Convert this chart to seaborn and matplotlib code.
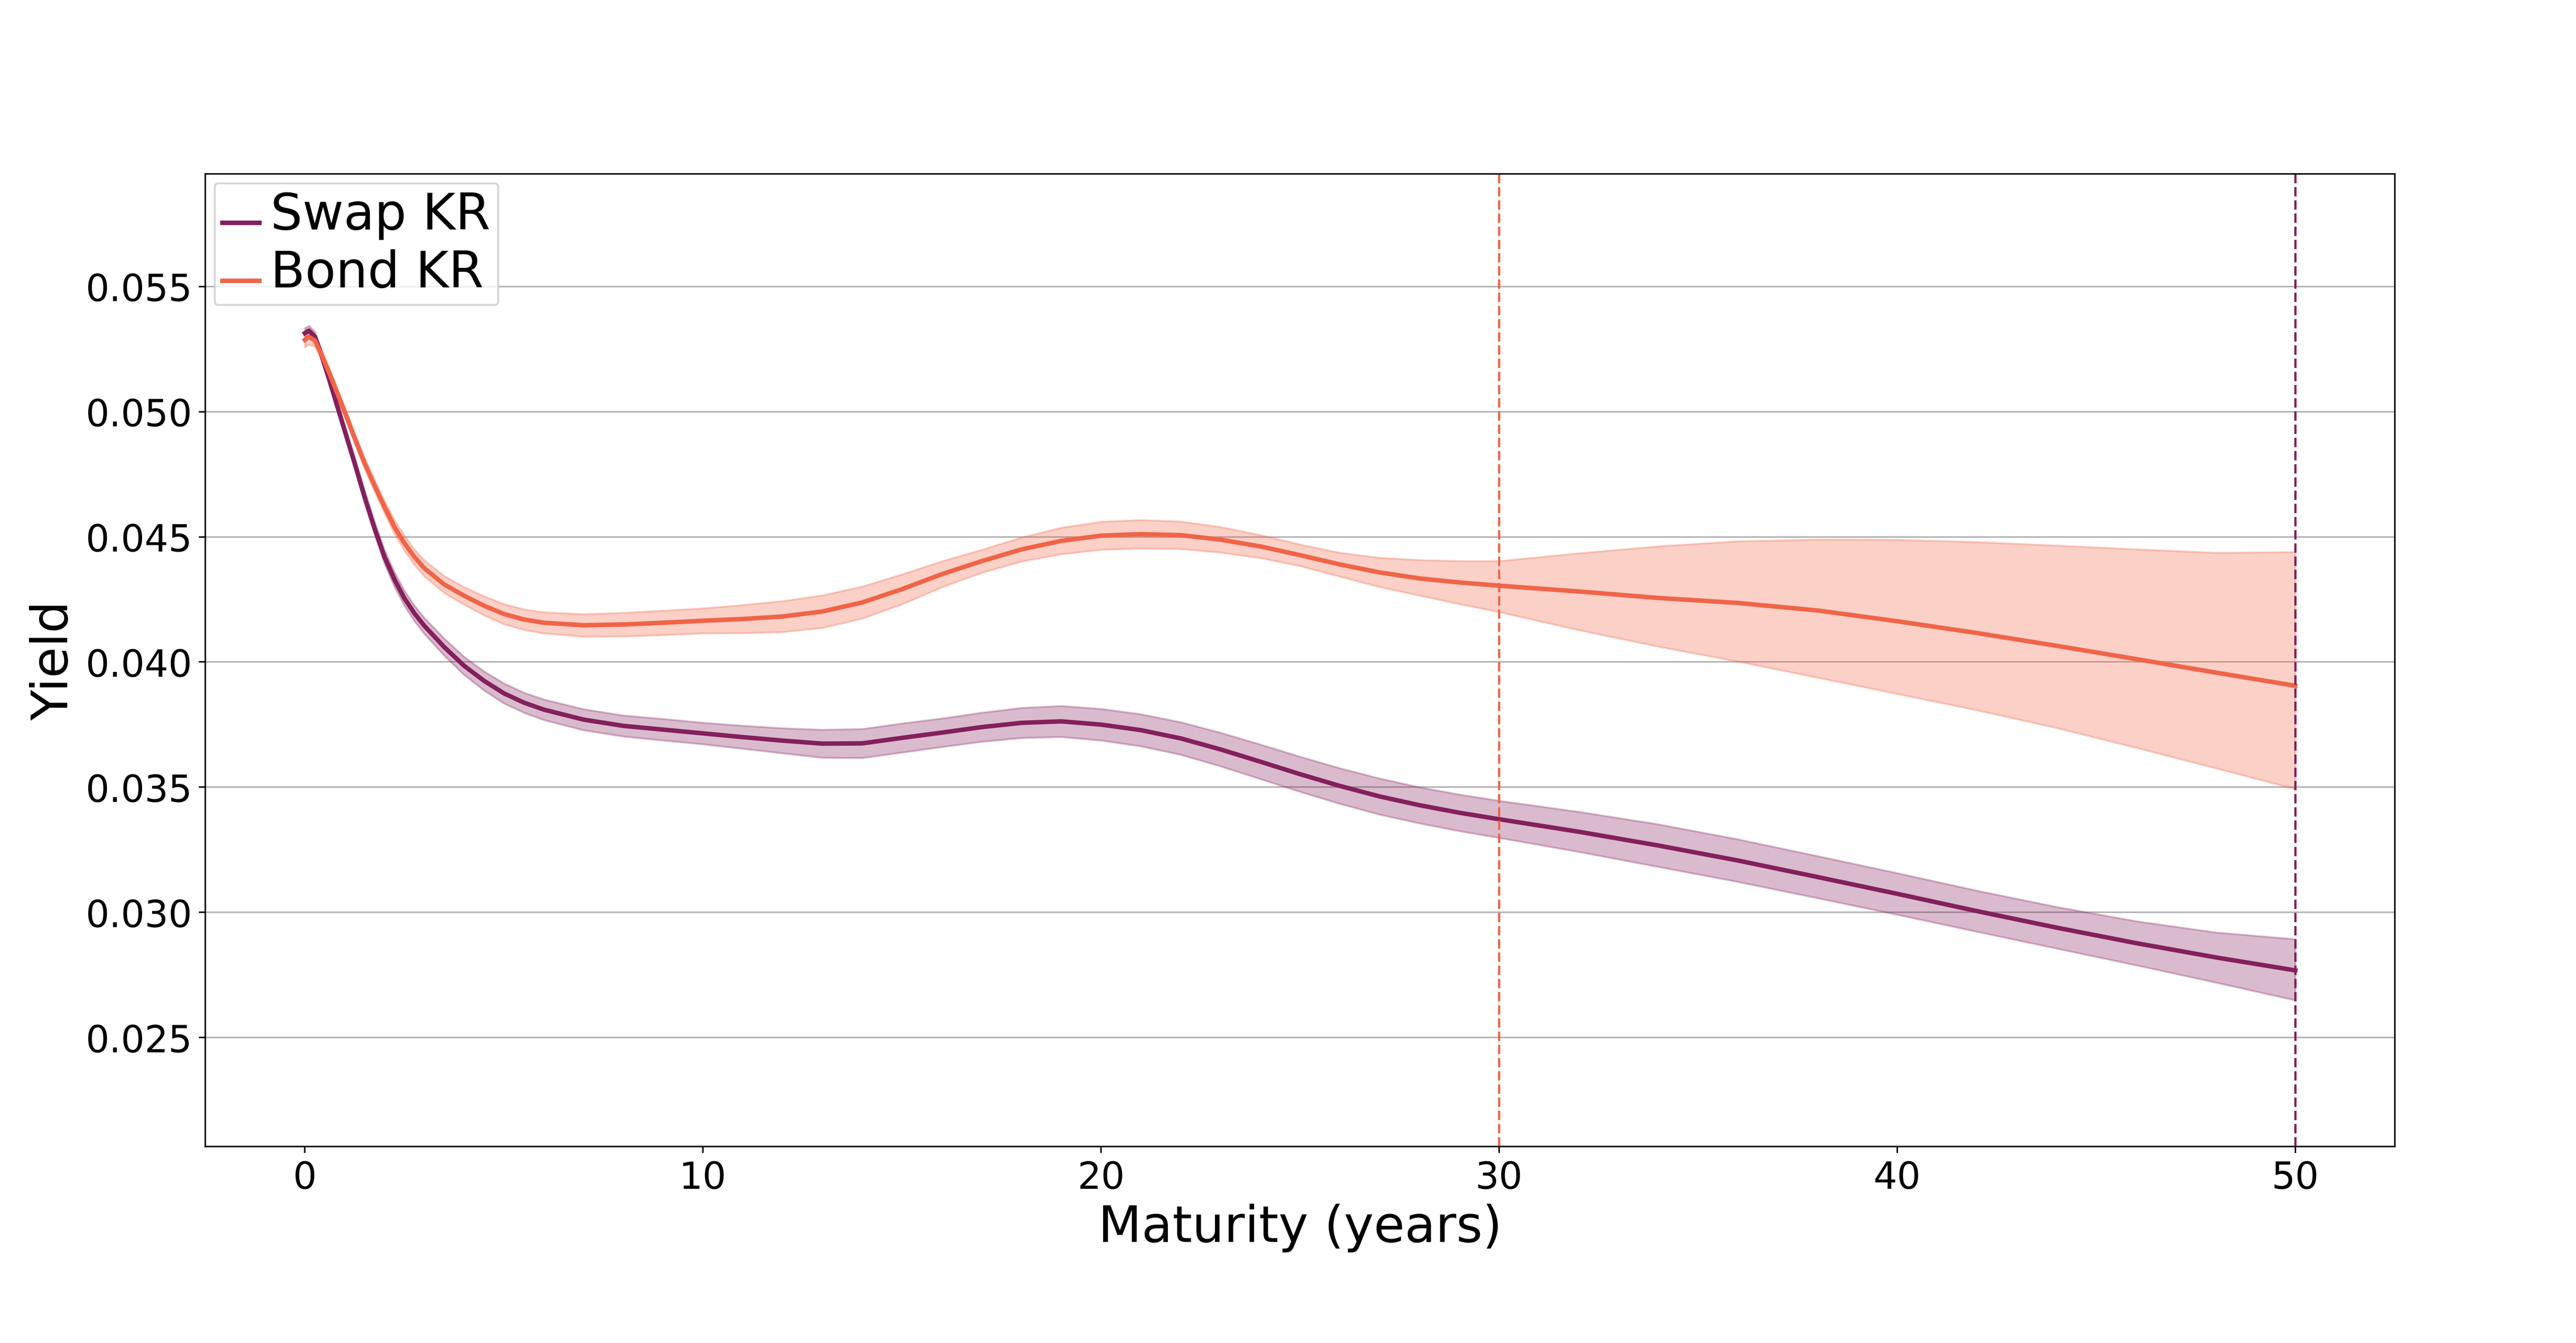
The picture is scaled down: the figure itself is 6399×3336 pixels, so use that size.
import numpy as np
import matplotlib
matplotlib.use("Agg")
import matplotlib.pyplot as plt
import seaborn as sns

maturity = [0, 0.1, 0.25, 0.4, 0.6, 0.8, 1, 1.25, 1.5, 1.75, 2, 2.25, 2.5, 2.75,
            3, 3.5, 4, 4.5, 5, 5.5, 6, 7, 8, 9, 10, 11, 12, 13, 14, 15, 16, 17,
            18, 19, 20, 21, 22, 23, 24, 25, 26, 27, 28, 29, 30, 32, 34, 36, 38,
            40, 42, 44, 46, 48, 50]

swap_yield = [0.05314, 0.05324, 0.05300, 0.05235, 0.05135, 0.05030, 0.04925,
              0.04795, 0.04660, 0.04535, 0.04420, 0.04330, 0.04255, 0.04195,
              0.04145, 0.04060, 0.03985, 0.03925, 0.03875, 0.03838, 0.03810,
              0.03770, 0.03745, 0.03730, 0.03715, 0.03700, 0.03686, 0.03674,
              0.03675, 0.03697, 0.03718, 0.03740, 0.03757, 0.03763, 0.03750,
              0.03728, 0.03695, 0.03651, 0.03602, 0.03552, 0.03505, 0.03463,
              0.03428, 0.03398, 0.03372, 0.03322, 0.03267, 0.03207, 0.03141,
              0.03074, 0.03005, 0.02939, 0.02877, 0.02820, 0.02768]
swap_upper = [0.05334, 0.05344, 0.05320, 0.05255, 0.05155, 0.05051, 0.04947,
              0.04818, 0.04685, 0.04561, 0.04448, 0.04359, 0.04285, 0.04226,
              0.04177, 0.04094, 0.04021, 0.03963, 0.03915, 0.03878, 0.03851,
              0.03812, 0.03787, 0.03773, 0.03758, 0.03746, 0.03736, 0.03730,
              0.03733, 0.03755, 0.03775, 0.03798, 0.03817, 0.03825, 0.03813,
              0.03792, 0.03760, 0.03718, 0.03671, 0.03622, 0.03576, 0.03535,
              0.03500, 0.03471, 0.03446, 0.03402, 0.03352, 0.03292, 0.03225,
              0.03157, 0.03087, 0.03022, 0.02965, 0.02920, 0.02893]
swap_lower = [0.05294, 0.05304, 0.05280, 0.05215, 0.05115, 0.05009, 0.04903,
              0.04772, 0.04635, 0.04509, 0.04392, 0.04301, 0.04225, 0.04164,
              0.04113, 0.04026, 0.03949, 0.03887, 0.03835, 0.03798, 0.03769,
              0.03728, 0.03703, 0.03687, 0.03672, 0.03654, 0.03636, 0.03618,
              0.03617, 0.03639, 0.03661, 0.03682, 0.03697, 0.03701, 0.03687,
              0.03664, 0.03630, 0.03584, 0.03533, 0.03482, 0.03434, 0.03391,
              0.03356, 0.03325, 0.03298, 0.03242, 0.03182, 0.03122, 0.03057,
              0.02991, 0.02923, 0.02856, 0.02789, 0.02720, 0.02649]

bond_yield = [0.05287, 0.05299, 0.05285, 0.05235, 0.05160, 0.05080, 0.05000,
              0.04895, 0.04795, 0.04705, 0.04620, 0.04540, 0.04475, 0.04420,
              0.04375, 0.04310, 0.04265, 0.04225, 0.04192, 0.04170, 0.04157,
              0.04147, 0.04150, 0.04157, 0.04165, 0.04172, 0.04182, 0.04202,
              0.04238, 0.04291, 0.04351, 0.04403, 0.04450, 0.04484, 0.04505,
              0.04511, 0.04507, 0.04489, 0.04462, 0.04427, 0.04390, 0.04358,
              0.04334, 0.04318, 0.04305, 0.04282, 0.04256, 0.04236, 0.04206,
              0.04163, 0.04116, 0.04065, 0.04012, 0.03958, 0.03905]
bond_upper = [0.05317, 0.05329, 0.05310, 0.05255, 0.05180, 0.05100, 0.05020,
              0.04916, 0.04817, 0.04728, 0.04645, 0.04567, 0.04505, 0.04451,
              0.04407, 0.04344, 0.04300, 0.04263, 0.04232, 0.04211, 0.04199,
              0.04192, 0.04197, 0.04206, 0.04215, 0.04228, 0.04244, 0.04267,
              0.04302, 0.04351, 0.04403, 0.04449, 0.04498, 0.04537, 0.04561,
              0.04568, 0.04562, 0.04540, 0.04508, 0.04470, 0.04437, 0.04417,
              0.04408, 0.04404, 0.04404, 0.04435, 0.04463, 0.04483, 0.04490,
              0.04489, 0.04480, 0.04466, 0.04451, 0.04437, 0.04440]
bond_lower = [0.05257, 0.05269, 0.05260, 0.05215, 0.05140, 0.05060, 0.04980,
              0.04874, 0.04773, 0.04682, 0.04595, 0.04513, 0.04445, 0.04389,
              0.04343, 0.04276, 0.04230, 0.04187, 0.04152, 0.04129, 0.04115,
              0.04102, 0.04103, 0.04108, 0.04115, 0.04116, 0.04120, 0.04137,
              0.04174, 0.04231, 0.04299, 0.04357, 0.04402, 0.04431, 0.04449,
              0.04454, 0.04452, 0.04438, 0.04416, 0.04384, 0.04342, 0.04300,
              0.04266, 0.04232, 0.04200, 0.04128, 0.04062, 0.04002, 0.03938,
              0.03873, 0.03808, 0.03737, 0.03658, 0.03576, 0.03493]

swap_color = "#84205c"
bond_color = "#f06448"
bond_cutoff = 30   # last bond key rate
swap_cutoff = 50   # last swap key rate
yticks = [0.025, 0.030, 0.035, 0.040, 0.045, 0.050, 0.055]

dpi = 1000 / 3
fig, ax = plt.subplots(figsize=(19.2, 10.011), dpi=dpi)
fig.subplots_adjust(left=0.0797, right=0.9295, bottom=0.1462, top=0.8702)

sns.lineplot(x=maturity, y=swap_yield, color=swap_color, lw=2.4, label="Swap KR", ax=ax)
ax.fill_between(maturity, swap_lower, swap_upper, color=swap_color, alpha=0.3)
sns.lineplot(x=maturity, y=bond_yield, color=bond_color, lw=2.4, label="Bond KR", ax=ax)
ax.fill_between(maturity, bond_lower, bond_upper, color=bond_color, alpha=0.3)

ax.axvline(bond_cutoff, color=bond_color, ls="--", lw=1.2, dashes=(4.2, 1.7))
ax.axvline(swap_cutoff, color=swap_color, ls="--", lw=1.2, dashes=(4.2, 1.7))

ax.set_ylim(0.02064, 0.0595)
ax.set_yticks(yticks)
ax.set_yticklabels([f"{t:.3f}" for t in yticks])
ax.grid(axis="y", color="#b0b0b0", lw=0.8)
ax.set_axisbelow(True)
ax.tick_params(labelsize=20)
ax.set_xlabel("Maturity (years)", fontsize=27)
ax.set_ylabel("Yield", fontsize=27)

# legend laid out at the default size, then the labels are enlarged
leg = ax.legend(loc="upper left", handletextpad=0.6)
plt.setp(leg.get_texts(), fontsize=27)

fig.savefig("out.png", dpi=dpi)
